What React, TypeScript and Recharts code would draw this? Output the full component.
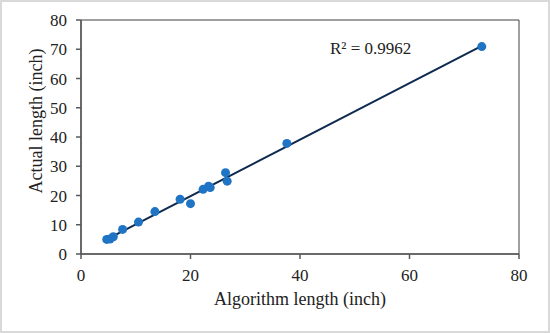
import React from "react";
import {
  ScatterChart,
  Scatter,
  XAxis,
  YAxis,
  ReferenceLine,
  ReferenceArea,
  Label,
} from "recharts";

const algorithmLength = [4.7, 5.3, 5.9, 7.6, 10.5, 13.5, 18.1, 20.0, 22.3, 23.3, 23.6, 26.4, 26.7, 37.6, 73.2];
const actualLength = [5.0, 5.1, 5.9, 8.4, 10.9, 14.5, 18.7, 17.2, 22.1, 23.2, 22.7, 27.8, 24.9, 37.8, 70.9];
const yTicks = [0, 10, 20, 30, 40, 50, 60, 70, 80];
const xTicks = [0, 20, 40, 60, 80];
const rSquaredLabel = "R² = 0.9962";

const points = algorithmLength.map((x, i) => ({ x, y: actualLength[i] }));

// least squares trendline
const n = points.length;
const mx = algorithmLength.reduce((a, b) => a + b, 0) / n;
const my = actualLength.reduce((a, b) => a + b, 0) / n;
let sxy = 0;
let sxx = 0;
points.forEach((p) => {
  sxy += (p.x - mx) * (p.y - my);
  sxx += (p.x - mx) * (p.x - mx);
});
const slope = sxy / sxx;
const intercept = my - slope * mx;
const xMin = Math.min(...algorithmLength);
const xMax = Math.max(...algorithmLength);

const font = "Liberation Serif, Times New Roman, serif";
const axisColor = "#595959";
const textColor = "#222";

const XTick = (props: any) => (
  <text
    x={props.x}
    y={props.y}
    dy={16}
    textAnchor="middle"
    style={{ fontFamily: font, fontSize: 17, fill: textColor }}
  >
    {props.payload.value}
  </text>
);

const YTick = (props: any) => (
  <text
    x={props.x}
    y={props.y}
    dy={6}
    textAnchor="end"
    style={{ fontFamily: font, fontSize: 17, fill: textColor }}
  >
    {props.payload.value}
  </text>
);

export default function App() {
  return (
    <div
      style={{
        position: "absolute",
        left: 0,
        top: 0,
        width: 550,
        height: 333,
        boxSizing: "border-box",
        border: "2px solid #d9d9d9",
        background: "#fff",
        fontFamily: font,
      }}
    >
      <ScatterChart width={546} height={329} margin={{ top: 18, right: 29, bottom: 0, left: 18 }}>
        <ReferenceArea x1={0} x2={80} y1={0} y2={80} fill="none" stroke="#404040" strokeWidth={1} />
        <XAxis
          type="number"
          dataKey="x"
          domain={[0, 80]}
          ticks={xTicks}
          interval={0}
          tickSize={5}
          tickMargin={6}
          stroke={axisColor}
          strokeWidth={1.5}
          tick={<XTick />}
          height={77}
        >
          <Label
            value="Algorithm length (inch)"
            position="insideTop"
            offset={38}
            style={{ fill: textColor, fontSize: 18, fontFamily: font }}
          />
        </XAxis>
        <YAxis
          type="number"
          dataKey="y"
          domain={[0, 80]}
          ticks={yTicks}
          interval={0}
          tickSize={5}
          tickMargin={9}
          width={61}
          stroke={axisColor}
          strokeWidth={1.5}
          tick={<YTick />}
        >
          <Label
            value="Actual length (inch)"
            angle={-90}
            position="insideLeft"
            offset={16}
            dy={-16}
            style={{ fill: textColor, fontSize: 18, fontFamily: font, textAnchor: "middle" }}
          />
        </YAxis>
        <ReferenceLine
          segment={[
            { x: xMin, y: slope * xMin + intercept },
            { x: xMax, y: slope * xMax + intercept },
          ]}
          stroke="#0e2a4f"
          strokeWidth={2}
        />
        <Scatter
          data={points}
          fill="#1f74c4"
          isAnimationActive={false}
          shape={(p: any) => <circle cx={p.cx} cy={p.cy} r={4.5} fill="#1f74c4" />}
        />
        <text x={328} y={52} style={{ fontFamily: font, fontSize: 17, fill: textColor }}>
          {rSquaredLabel}
        </text>
      </ScatterChart>
    </div>
  );
}
